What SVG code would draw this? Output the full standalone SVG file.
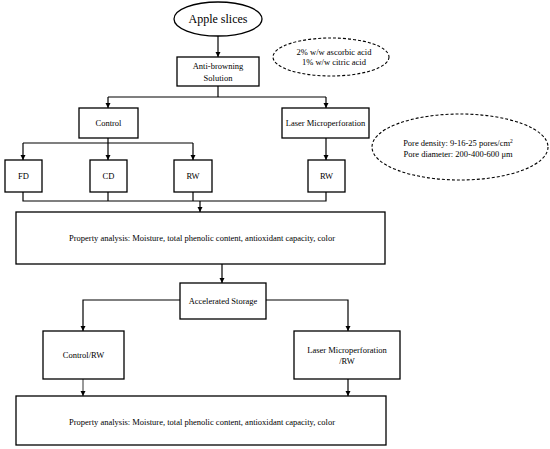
<svg xmlns="http://www.w3.org/2000/svg" width="550" height="449" viewBox="0 0 550 449">
<defs>
<marker id="ah" markerWidth="6" markerHeight="6" refX="5" refY="3" orient="auto" markerUnits="userSpaceOnUse">
<path d="M0,0.5 L5,3 L0,5.5 Z" fill="#000"/>
</marker>
<style>
.box{fill:#fff;stroke:#000;stroke-width:1.3}
.dash{fill:none;stroke:#000;stroke-width:1.1;stroke-dasharray:3,2}
.ln{fill:none;stroke:#000;stroke-width:1.2}
.arr{fill:none;stroke:#000;stroke-width:1.2;marker-end:url(#ah)}
text{font-family:"Liberation Serif","Times New Roman",serif;font-size:8.5px;fill:#000;text-anchor:middle}
</style>
</defs>
<rect width="550" height="449" fill="#fff"/>
<g id="connectors">
<line class="arr" x1="218" y1="36" x2="218" y2="57"/>
<polyline class="ln" points="218,86 218,97"/>
<line class="ln" x1="108" y1="97" x2="326" y2="97"/>
<line class="arr" x1="108" y1="97" x2="108" y2="108"/>
<line class="arr" x1="326" y1="97" x2="326" y2="108"/>
<line class="ln" x1="108" y1="138" x2="108" y2="143"/>
<line class="ln" x1="23" y1="143" x2="193" y2="143"/>
<line class="arr" x1="23" y1="143" x2="23" y2="160"/>
<line class="arr" x1="108" y1="143" x2="108" y2="160"/>
<line class="arr" x1="193" y1="143" x2="193" y2="160"/>
<line class="arr" x1="326" y1="138" x2="326" y2="160"/>
<polyline class="ln" points="23,192 23,201 326,201 326,192"/>
<line class="ln" x1="108" y1="192" x2="108" y2="201"/>
<line class="ln" x1="193" y1="192" x2="193" y2="201"/>
<line class="arr" x1="200" y1="201" x2="200" y2="212"/>
<line class="arr" x1="222" y1="264" x2="222" y2="283"/>
<polyline class="arr" points="180,300 83,300 83,331"/>
<polyline class="arr" points="266,300 348,300 348,331"/>
<line class="arr" x1="83" y1="379" x2="83" y2="396" style="stroke-width:0.8"/>
<line class="arr" x1="348" y1="379" x2="348" y2="396"/>
</g>
<g id="apple"><ellipse cx="218" cy="19" rx="44" ry="17" fill="#fff" stroke="#000" stroke-width="1.3"/><text x="218" y="23" style="font-size:12px">Apple slices</text></g>
<g id="antibrowning"><rect class="box" x="177" y="57" width="82" height="29"/><text x="218" y="69">Anti-browning</text><text x="218" y="81">Solution</text></g>
<g id="acid"><ellipse class="dash" cx="331" cy="57" rx="58" ry="19"/><text x="334" y="55">2% w/w  ascorbic acid</text><text x="334" y="65">1% w/w citric acid</text></g>
<g id="control"><rect class="box" x="79" y="108" width="59" height="30"/><text x="108.5" y="126">Control</text></g>
<g id="laser"><rect class="box" x="282" y="108" width="87" height="30"/><text x="325.5" y="126">Laser Microperforation</text></g>
<g id="pore"><ellipse class="dash" cx="460" cy="147" rx="88" ry="33"/><text x="458" y="146">Pore density:  9-16-25 pores/cm<tspan dy="-3" style="font-size:5.5px">2</tspan></text><text x="458" y="157">Pore diameter:  200-400-600 μm</text></g>
<g id="fd"><rect class="box" x="5" y="160" width="37" height="32"/><text x="23.5" y="179">FD</text></g>
<g id="cd"><rect class="box" x="90" y="160" width="37" height="32"/><text x="108.5" y="179">CD</text></g>
<g id="rw1"><rect class="box" x="174" y="160" width="38" height="32"/><text x="193" y="179">RW</text></g>
<g id="rw2"><rect class="box" x="308" y="160" width="37" height="32"/><text x="326.5" y="179">RW</text></g>
<g id="prop1"><rect class="box" x="16" y="212" width="369" height="52"/><text x="202" y="241">Property analysis: Moisture, total phenolic content, antioxidant capacity, color</text></g>
<g id="storage"><rect class="box" x="180" y="283" width="86" height="36"/><text x="223" y="304">Accelerated Storage</text></g>
<g id="controlrw"><rect class="box" x="43" y="331" width="81" height="48"/><text x="83.5" y="358">Control/RW</text></g>
<g id="laserrw"><rect class="box" x="294" y="331" width="106" height="48"/><text x="347" y="353">Laser Microperforation</text><text x="347" y="364">/RW</text></g>
<g id="prop2"><rect class="box" x="16" y="396" width="370" height="49"/><text x="202" y="425">Property analysis: Moisture, total phenolic content, antioxidant capacity, color</text></g>
</svg>
